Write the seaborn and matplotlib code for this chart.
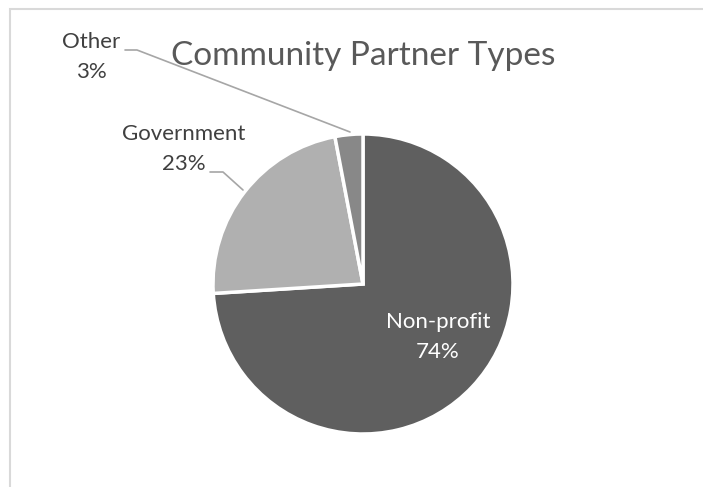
import matplotlib
matplotlib.use("Agg")
import matplotlib.pyplot as plt
import seaborn as sns
from matplotlib.patches import Rectangle

categories = ["Non-profit", "Government", "Other"]
shares = [74, 23, 3]
pct_labels = ["74%", "23%", "3%"]

sns.set_theme(style="white")
plt.rcParams['font.family'] = ['Lato', 'DejaVu Sans']
colors = ["#5f5f5f", "#b0b0b0", "#888888"]

W, H = 703, 487
fig = plt.figure(figsize=(W / 100, H / 100), dpi=100)
ax = fig.add_axes([0, 0, 1, 1])

# chart area frame (left/top only visible)
ax.add_patch(Rectangle((10, -20), W + 40, H - 9 + 20, fill=False,
                       edgecolor="#d9d9d9", linewidth=1.5))

cx, cy, r = 363, H - 284, 150
wedges, _ = ax.pie(shares, colors=colors, startangle=90, counterclock=False,
                   center=(cx, cy), radius=r,
                   wedgeprops=dict(edgecolor="white", linewidth=2.5))
ax.set_xlim(0, W)
ax.set_ylim(0, H)
ax.set_aspect('equal')
ax.axis('off')

ax.text(cx, H - 56, "Community Partner Types", ha='center', va='center',
        fontsize=24, color="#595959")

# Non-profit label inside
ax.text(438, H - 337, f"{categories[0]}\n{pct_labels[0]}", ha='center', va='center',
        fontsize=16, color="white", linespacing=1.6)

# Government label with leader line
ax.text(184, H - 149, f"{categories[1]}\n{pct_labels[1]}", ha='center', va='center',
        fontsize=16, color="#404040", linespacing=1.6)
ax.plot([210, 223, 243], [H - 172, H - 172, H - 190], color="#a6a6a6", lw=1.2)

# Other label with leader line
ax.text(91, H - 57, f"{categories[2]}\n{pct_labels[2]}", ha='center', va='center',
        fontsize=16, color="#404040", linespacing=1.6)
ax.plot([125, 137, 350], [H - 50, H - 50, H - 132], color="#a6a6a6", lw=1.2)

fig.savefig("out.png", dpi=100)
